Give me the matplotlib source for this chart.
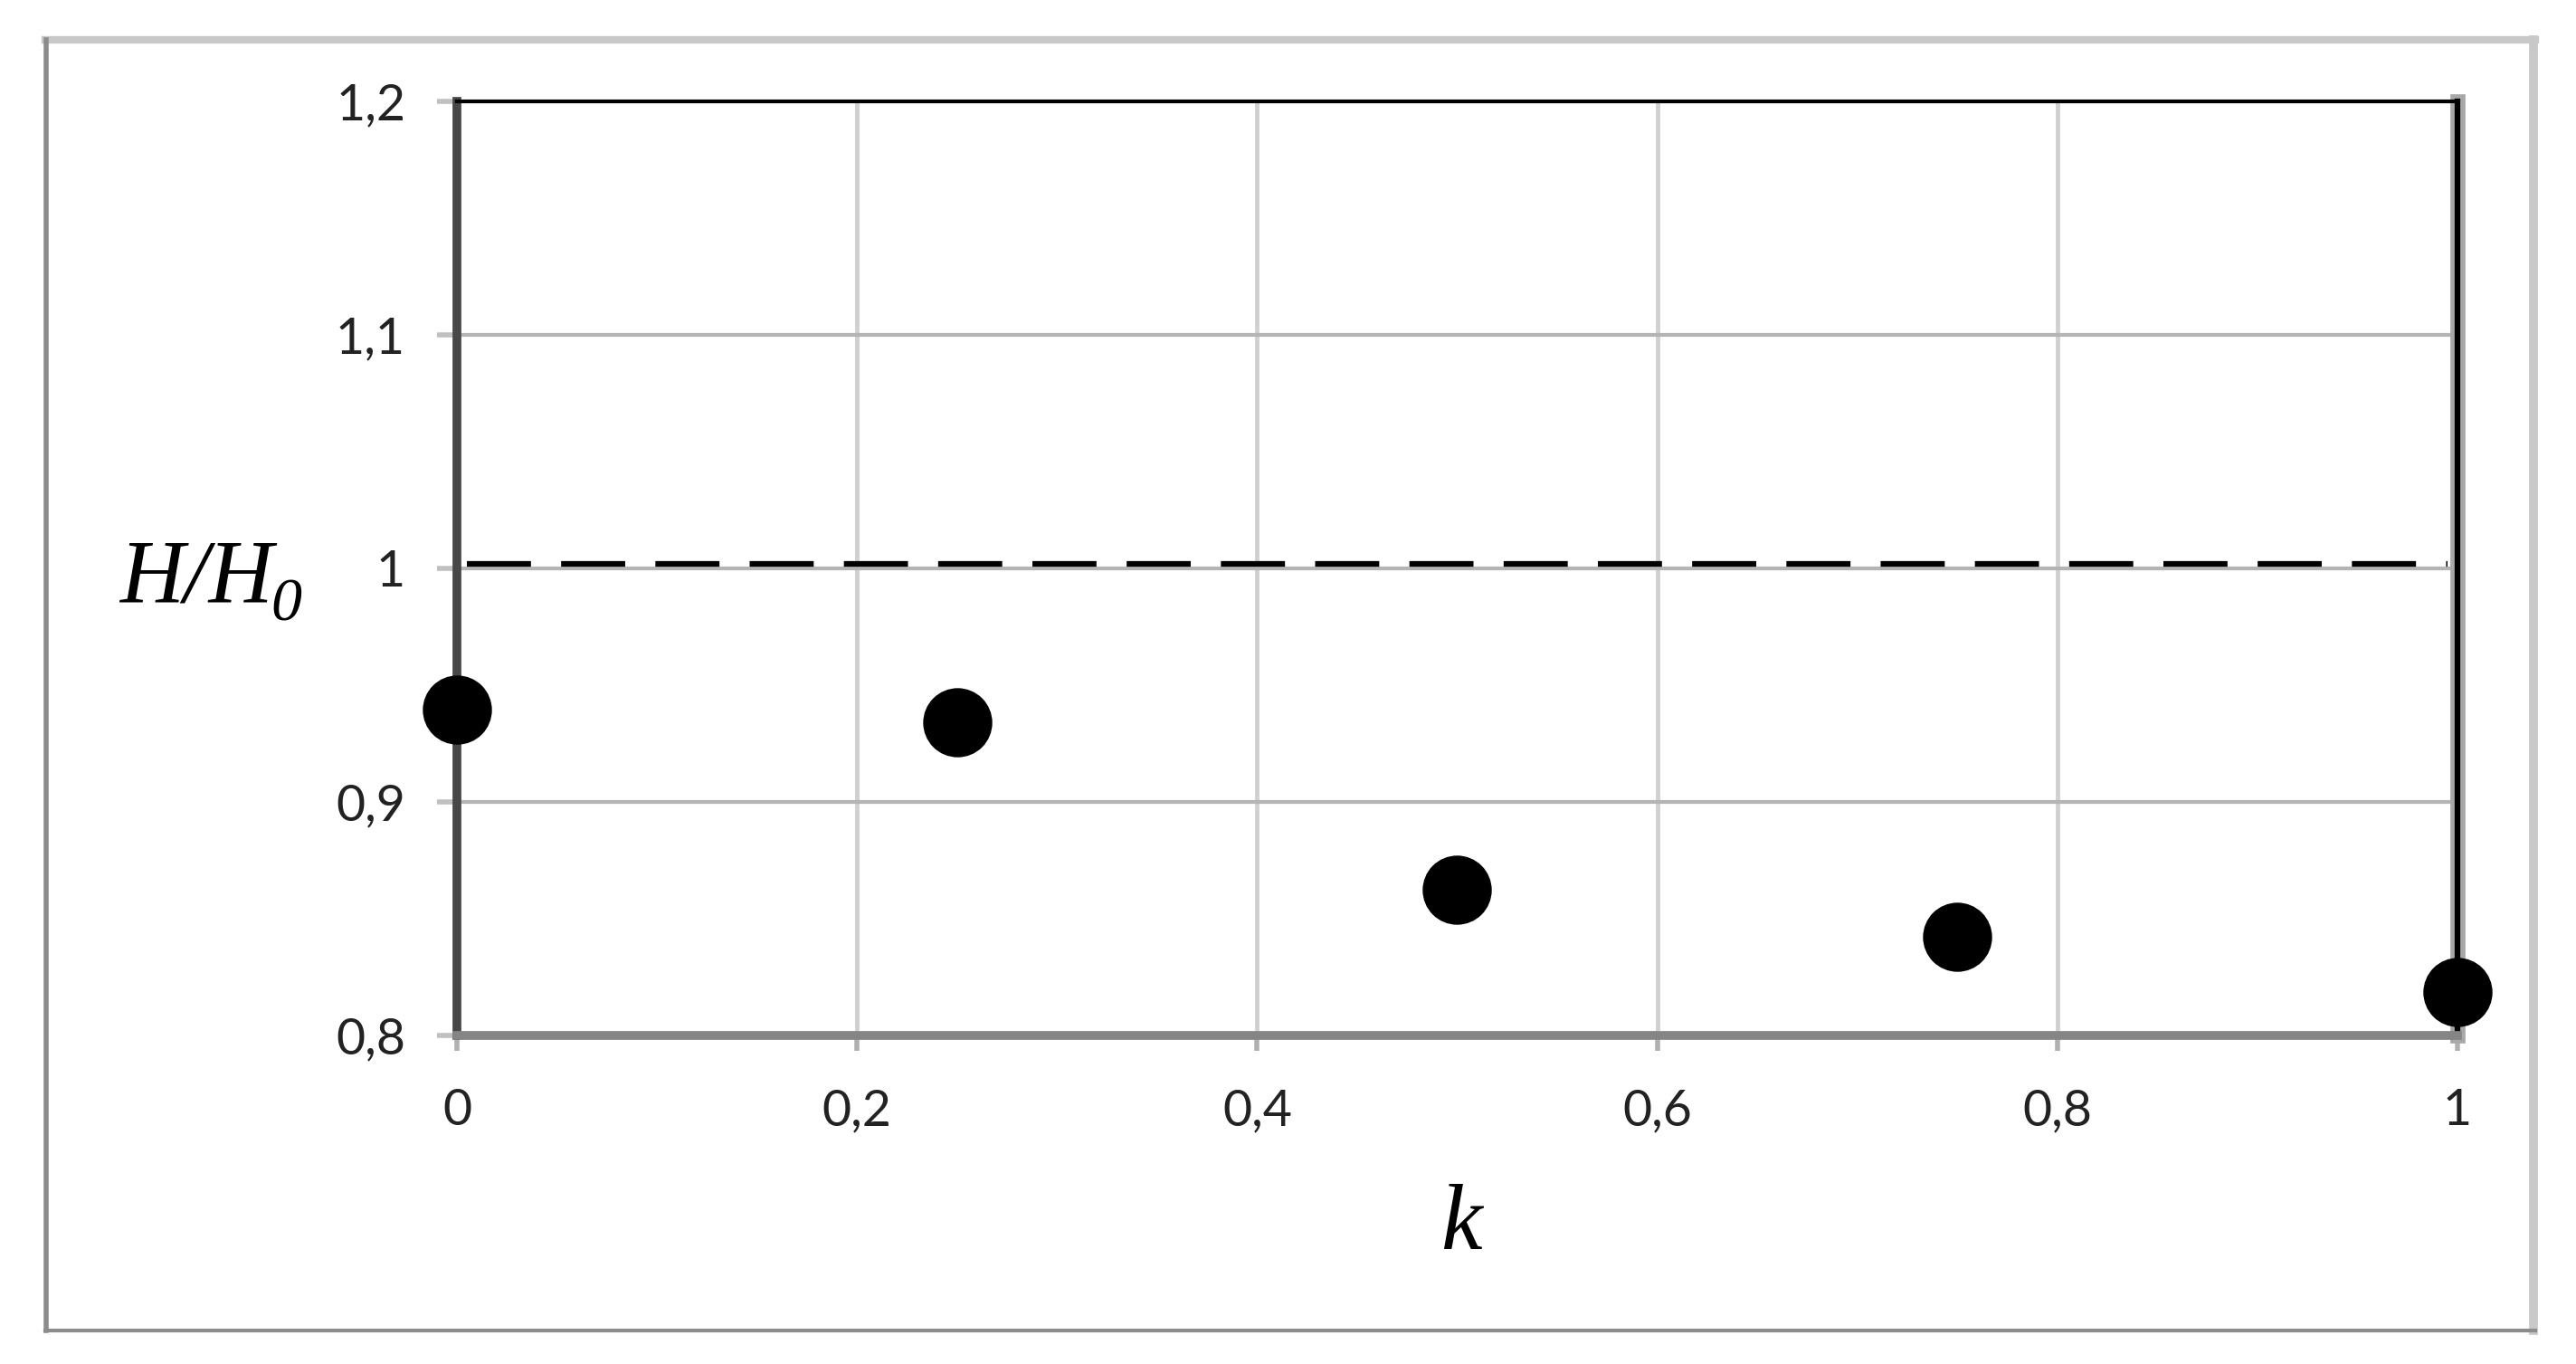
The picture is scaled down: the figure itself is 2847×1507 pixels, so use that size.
import matplotlib
matplotlib.use("Agg")
import matplotlib.pyplot as plt
from matplotlib.lines import Line2D

# data
k = [0, 0.25, 0.5, 0.75, 1]
h_ratio = [0.9395, 0.934, 0.8624, 0.8422, 0.8186]
ref_k = [0.005, 0.995]
ref_h = [1.002, 1.002]

xticks = [0, 0.2, 0.4, 0.6, 0.8, 1]
xlabels = ['0', '0,2', '0,4', '0,6', '0,8', '1']
yticks = [0.8, 0.9, 1.0, 1.1, 1.2]
ylabels = ['0,8', '0,9', '1', '1,1', '1,2']

plt.rcParams['lines.scale_dashes'] = False

W, H = 2847, 1507
fig = plt.figure(figsize=(W / 100, H / 100), dpi=100)
ax = fig.add_axes([505 / W, 1 - 1144 / H, (2716 - 505) / W, (1144 - 112) / H])

ax.set_xlim(0, 1)
ax.set_ylim(0.8, 1.2)

# grid
ax.grid(axis='x', color='#d0d0d0', lw=3.5)
ax.grid(axis='y', color='#b4b4b4', lw=3.0)
ax.set_axisbelow(True)

# dashed reference line
ax.plot(ref_k, ref_h, color='black', lw=4.5, dashes=(51, 24), solid_capstyle='butt',
        dash_capstyle='butt', zorder=3)

# right edge: gray halo under the black spine
ax.axvline(1, color='#a8a8a8', lw=12, zorder=2.4, clip_on=False)

# data points
ax.plot(k, h_ratio, 'o', color='black', markersize=54, clip_on=False, zorder=6)

ax.spines['left'].set_color('#474747')
ax.spines['left'].set_linewidth(7)
ax.spines['bottom'].set_color('#858585')
ax.spines['bottom'].set_linewidth(7)
ax.spines['top'].set_color('black')
ax.spines['top'].set_linewidth(3)
ax.spines['right'].set_color('black')
ax.spines['right'].set_linewidth(4.5)
for s in ax.spines.values():
    s.set_zorder(2.5)

ax.set_xticks(xticks)
ax.set_xticklabels(xlabels)
ax.set_yticks(yticks)
ax.set_yticklabels(ylabels)
ax.tick_params(axis='y', length=16, width=4, color='#c0c0c0', pad=25,
               labelsize=40, labelcolor='#222222')
ax.tick_params(axis='x', length=12, width=4, color='#b0b0b0', pad=30,
               labelsize=40, labelcolor='#222222')
for lab in ax.get_xticklabels() + ax.get_yticklabels():
    lab.set_family(['Lato', 'DejaVu Sans'])

# axis titles: H/H with an italic subscript 0
t = fig.text(132 / W, 1 - 665 / H, 'H/H', fontsize=71, style='italic',
             family='Liberation Serif', ha='left', va='baseline')
fig.canvas.draw()
bb = t.get_window_extent()
fig.text(bb.x1 / W - 2 / W, 1 - 686 / H, '0', fontsize=49, style='italic',
         family='Liberation Serif', ha='left', va='baseline')
fig.text(1615 / W, 1 - 1380 / H, 'k', fontsize=74, style='italic',
         family='Liberation Serif', ha='center', va='baseline')

# outer frame
fig.add_artist(Line2D([50 / W, 2802 / W], [1 - 44 / H, 1 - 44 / H], color='#c8c8c8', lw=6,
                      transform=fig.transFigure))
fig.add_artist(Line2D([51 / W, 51 / W], [1 - 44 / H, 1 - 1470 / H], color='#8c8c8c', lw=4,
                      transform=fig.transFigure))
fig.add_artist(Line2D([2800 / W, 2800 / W], [1 - 44 / H, 1 - 1470 / H], color='#c8c8c8', lw=7,
                      transform=fig.transFigure))
fig.add_artist(Line2D([50 / W, 2802 / W], [1 - 1470 / H, 1 - 1470 / H], color='#8c8c8c', lw=3,
                      transform=fig.transFigure))

fig.savefig('out.png', dpi=100)
